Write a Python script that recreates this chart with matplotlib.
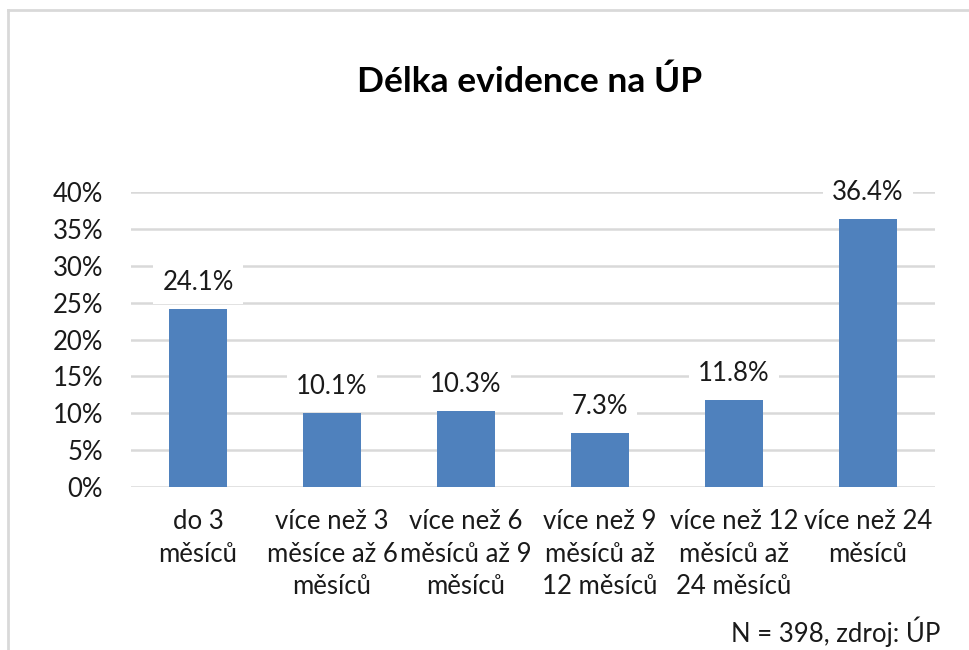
import matplotlib.pyplot as plt
from matplotlib.lines import Line2D
from matplotlib.ticker import FuncFormatter

# data
kategorie = ["do 3\nměsíců",
             "více než 3\nměsíce až 6\nměsíců",
             "více než 6\nměsíců až 9\nměsíců",
             "více než 9\nměsíců až\n12 měsíců",
             "více než 12\nměsíců až\n24 měsíců",
             "více než 24\nměsíců"]
hodnoty = [24.1, 10.1, 10.3, 7.3, 11.8, 36.4]
titulek = "Délka evidence na ÚP"
poznamka = "N = 398, zdroj: ÚP"

plt.rcParams['font.family'] = ['Lato', 'DejaVu Sans']
barva = '#4F81BD'
seda = '#D9D9D9'
text_barva = '#1a1a1a'

W, H = 969, 650
fig = plt.figure(figsize=(W / 100, H / 100), dpi=100)
ax = fig.add_axes([131 / W, 1 - 487 / H, (935 - 131) / W, (487 - 192) / H])

x = list(range(len(kategorie)))
ax.bar(x, hodnoty, width=0.44, color=barva, zorder=2)

ax.set_xlim(-0.5, len(kategorie) - 0.5)
ax.set_ylim(0, 40)
ax.set_yticks(range(0, 41, 5))
ax.yaxis.set_major_formatter(FuncFormatter(lambda v, p: f"{int(v)}%"))
ax.grid(axis='y', color=seda, linewidth=1.8, zorder=0)
ax.set_axisbelow(True)
for s in ax.spines.values():
    s.set_visible(False)

ax.set_xticks(x)
ax.set_xticklabels(kategorie, linespacing=1.38)
ax.tick_params(axis='both', length=0, labelsize=18.5, colors=text_barva)
ax.tick_params(axis='y', pad=20)
ax.tick_params(axis='x', pad=16)

# popisky nad sloupci
for i, v in enumerate(hodnoty):
    ax.annotate(f"{v:.1f}%", (i, v), xytext=(0, 10), textcoords='offset points',
                ha='center', va='bottom', fontsize=18.5, color=text_barva,
                bbox=dict(boxstyle='square,pad=0.35', fc='white', ec='none'),
                zorder=3)

fig.text(530 / W, 1 - 82 / H, titulek, ha='center', va='center',
         fontsize=25.5, fontweight='bold', color='black')
fig.text(940 / W, 1 - 632 / H, poznamka, ha='right', va='center',
         fontsize=18.5, color=text_barva)

# ramecek grafu
fig.add_artist(Line2D([8 / W, 1.1], [1 - 10 / H, 1 - 10 / H], color=seda, linewidth=2,
                      transform=fig.transFigure))
fig.add_artist(Line2D([8 / W, 8 / W], [1 - 10 / H, -0.1], color=seda, linewidth=2,
                      transform=fig.transFigure))

fig.savefig('out.png', dpi=100)
